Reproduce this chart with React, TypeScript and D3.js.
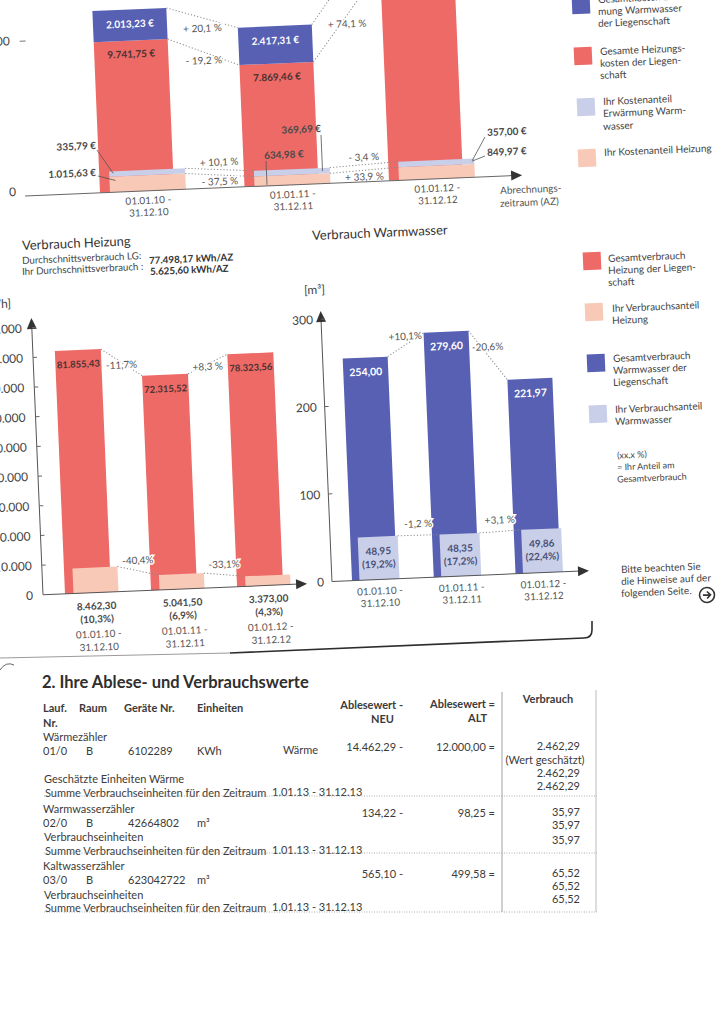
import React from "react";
import * as d3 from "d3";

// ---------- data ----------
const periods = ["2010", "2011", "2012"];
const periodStart = ["01.01.10 -", "01.01.11 -", "01.01.12 -"];
const periodEnd = ["31.12.10", "31.12.11", "31.12.12"];

// Kosten (€)
const costHeatTotal = [9741.75, 7869.46, 13700.73];
const costWaterTotal = [2013.23, 2417.31, 2600.0];
const costHeatShare = [1015.63, 634.98, 849.97];
const costWaterShare = [335.79, 369.69, 357.0];
const costHeatChange = ["- 19,2 %", "+ 74,1 %"];
const costWaterChange = ["+ 20,1 %", ""];
const costHeatShareChange = ["- 37,5 %", "+ 33,9 %"];
const costWaterShareChange = ["+ 10,1 %", "- 3,4 %"];
const costTicks = [0, 10000];

// Verbrauch Heizung (kWh)
const heatTotal = [81855.43, 72315.52, 78323.56];
const heatShare = [8462.3, 5041.5, 3373.0];
const heatSharePct = ["(10,3%)", "(6,9%)", "(4,3%)"];
const heatTotalChange = ["-11,7%", "+8,3 %"];
const heatShareChange = ["-40,4%", "-33,1%"];
const heatTicks = [0, 10000, 20000, 30000, 40000, 50000, 60000, 70000, 80000, 90000];

// Verbrauch Warmwasser (m³)
const waterTotal = [254.0, 279.6, 221.97];
const waterShare = [48.95, 48.35, 49.86];
const waterSharePct = ["(19,2%)", "(17,2%)", "(22,4%)"];
const waterTotalChange = ["+10,1%", "-20,6%"];
const waterShareChange = ["-1,2 %", "+3,1 %"];
const waterTicks = [0, 100, 200, 300];

// Tabelle
const meterGroups = ["Wärmezähler", "Warmwasserzähler", "Kaltwasserzähler"];
const meterNr = ["01/0", "02/0", "03/0"];
const meterRaum = ["B", "B", "B"];
const meterGeraet = ["6102289", "42664802", "623042722"];
const meterEinheit = ["KWh", "m³", "m³"];
const meterArt = ["Wärme", "", ""];
const meterNeu = ["14.462,29", "134,22", "565,10"];
const meterAlt = ["12.000,00", "98,25", "499,58"];
const meterVerbrauch = [
  ["2.462,29", "(Wert geschätzt)", "2.462,29", "2.462,29"],
  ["35,97", "35,97", "35,97"],
  ["65,52", "65,52", "65,52"],
];
const meterExtra = ["Geschätzte Einheiten Wärme", "Verbrauchseinheiten", "Verbrauchseinheiten"];
const zeitraum = "1.01.13 - 31.12.13";

// ---------- style ----------
const RED = "#ee6a66";
const BLUE = "#5760b2";
const LAV = "#c9cfe8";
const SAL = "#f8c9b7";
const TXT = "#3b3b3b";
const FONT = "Lato, 'Open Sans', sans-serif";

const de = d3.formatLocale({ decimal: ",", thousands: ".", grouping: [3], currency: ["", " €"] });
const f2 = de.format(",.2f");
const f0 = de.format(",.0f");
const eur = (v: number) => f2(v) + " €";

export default function App() {
  const ang = -2.4;
  const PCX = 360, PCY = 330;
  const r = (-ang * Math.PI) / 180;
  const inv = (X: number, Y: number): [number, number] => {
    const dx = X - PCX, dy = Y - PCY;
    return [PCX + dx * Math.cos(r) - dy * Math.sin(r), PCY + dx * Math.sin(r) + dy * Math.cos(r)];
  };
  const T = (X: number, Y: number, s: string, p: any = {}) => {
    const [x, y] = inv(X, Y);
    return (
      <text key={s + X + "_" + Y} x={x} y={y} dominantBaseline="central" {...p}>
        {s}
      </text>
    );
  };
  const halo = { stroke: "#fff", strokeWidth: 3, paintOrder: "stroke" as const };
  const dotted = { stroke: "#8a8a8a", strokeWidth: 1, strokeDasharray: "1.2,2", fill: "none" };

  // ---------- top cost chart ----------
  const tBase = inv(275, 185.5)[1];
  const xT = d3.scalePoint<string>().domain(periods).range([inv(137, 192)[0], inv(426, 180)[0]]);
  const yT = d3.scaleLinear().domain([0, 10000]).range([tBase, tBase - 154.8]);
  const tW = 74, tsW = 76, tsOff = 11;
  const tAxisX0 = inv(25, 194)[0];
  const tAxisX1 = inv(522, 172)[0];
  const tTickX = inv(13, 120)[0];

  const costTot = costHeatTotal.map((v, i) => v + costWaterTotal[i]);
  const costShareTot = costHeatShare.map((v, i) => v + costWaterShare[i]);

  const topChart = (
    <g>
      {periods.map((p, i) => {
        const cx = xT(p)!;
        const sx = cx + tsOff;
        return (
          <g key={p}>
            <rect x={cx - tW / 2} y={yT(costHeatTotal[i])} width={tW} height={tBase - yT(costHeatTotal[i])} fill={RED} />
            <rect x={cx - tW / 2} y={yT(costTot[i])} width={tW} height={yT(costHeatTotal[i]) - yT(costTot[i])} fill={BLUE} />
            <rect x={sx - tsW / 2} y={yT(costHeatShare[i])} width={tsW} height={tBase - yT(costHeatShare[i])} fill={SAL} />
            <rect x={sx - tsW / 2} y={yT(costShareTot[i])} width={tsW} height={yT(costHeatShare[i]) - yT(costShareTot[i])} fill={LAV} />
            <text x={cx} y={yT(costTot[i]) + 14} textAnchor="middle" dominantBaseline="central" fill="#fff" fontWeight="bold" fontSize={10}>
              {eur(costWaterTotal[i])}
            </text>
            <text x={cx} y={yT(costHeatTotal[i]) + 13} textAnchor="middle" dominantBaseline="central" fill="#4a3232" fontWeight="bold" fontSize={10}>
              {eur(costHeatTotal[i])}
            </text>
            <text x={sx} y={tBase + 9} textAnchor="middle" dominantBaseline="central" fill="#555" fontSize={10}>{periodStart[i]}</text>
            <text x={sx} y={tBase + 21} textAnchor="middle" dominantBaseline="central" fill="#555" fontSize={10}>{periodEnd[i]}</text>
          </g>
        );
      })}
      {[0, 1].map((i) => {
        const a = xT(periods[i])!, b = xT(periods[i + 1])!;
        const lines = [
          { y0: yT(costTot[i]), y1: yT(costTot[i + 1]), x0: a + tW / 2, x1: b - tW / 2, lab: costWaterChange[i], off: 10 },
          { y0: yT(costHeatTotal[i]), y1: yT(costHeatTotal[i + 1]), x0: a + tW / 2, x1: b - tW / 2, lab: costHeatChange[i], off: 8 },
          { y0: yT(costShareTot[i]), y1: yT(costShareTot[i + 1]), x0: a + tsOff + tsW / 2, x1: b + tsOff - tsW / 2, lab: costWaterShareChange[i], off: -8 },
          { y0: yT(costHeatShare[i]), y1: yT(costHeatShare[i + 1]), x0: a + tsOff + tsW / 2, x1: b + tsOff - tsW / 2, lab: costHeatShareChange[i], off: 6 },
        ];
        return lines.map((l, k) => (
          <g key={i + "-" + k}>
            <line x1={l.x0} y1={l.y0} x2={l.x1} y2={l.y1} {...dotted} />
            {l.lab && (
              <text x={(l.x0 + l.x1) / 2} y={(l.y0 + l.y1) / 2 + l.off} textAnchor="middle" dominantBaseline="central" fontSize={10} fill="#555" {...halo}>
                {l.lab}
              </text>
            )}
          </g>
        ));
      })}
      {/* x axis */}
      <line x1={tAxisX0} y1={tBase} x2={tAxisX1 - 8} y2={tBase} stroke="#666" strokeWidth={1} />
      <path d={`M${tAxisX1},${tBase} l-11,-5 l0,10 z`} fill="#333" />
      {costTicks.map((t) => (
        <g key={t}>
          <text x={tTickX} y={yT(t) - (t === 0 ? 5 : 1)} textAnchor="end" dominantBaseline="central" fontSize={12} fill="#444">{f0(t)}</text>
          {t > 0 && <line x1={tTickX + 10} x2={tTickX + 16} y1={yT(t)} y2={yT(t)} stroke="#777" />}
        </g>
      ))}
      {/* share annotations */}
      {(() => {
        const s0 = xT(periods[0])! + tsOff, s2 = xT(periods[2])! + tsOff;
        const seg = (X: number, Y: number, x: number, y: number, k: string) => {
          const [a, b] = inv(X, Y);
          return <line key={k} x1={a} y1={b} x2={x} y2={y} stroke="#555" strokeWidth={0.8} />;
        };
        const p369 = inv(321, 135);
        const p634 = inv(266, 161);
        const lab = { fontWeight: "bold", fontSize: 10, fill: "#4a4a4a" };
        return (
          <g>
            {T(96, 145, eur(costWaterShare[0]), { textAnchor: "end", ...lab })}
            {seg(97, 150, s0 - tsW / 2 + 4, yT(costShareTot[0]) + 2, "l1")}
            {T(96, 172, eur(costHeatShare[0]), { textAnchor: "end", ...lab })}
            {seg(98, 176, s0 - tsW / 2 + 6, yT(costHeatShare[0]) + 4, "l2")}
            {T(321, 128, eur(costWaterShare[1]), { textAnchor: "end", ...lab })}
            <line x1={p369[0]} y1={p369[1]} x2={p369[0]} y2={yT(costShareTot[1]) + 3} stroke="#555" strokeWidth={0.8} />
            {T(264, 155, eur(costHeatShare[1]), { textAnchor: "start", ...lab })}
            <line x1={p634[0]} y1={p634[1]} x2={p634[0]} y2={yT(0) - 1} stroke="#555" strokeWidth={0.8} />
            {T(487, 132, eur(costWaterShare[2]), { textAnchor: "start", ...lab })}
            {seg(485, 137, s2 + tsW / 2 - 2, yT(costShareTot[2]) + 2, "l5")}
            {T(487, 152, eur(costHeatShare[2]), { textAnchor: "start", ...lab })}
            {seg(485, 156, s2 + tsW / 2 - 2, yT(costHeatShare[2]) - 3, "l6")}
          </g>
        );
      })()}
      {T(500, 190, "Abrechnungs-", { fontSize: 10, fill: "#555" })}
      {T(500, 203, "zeitraum (AZ)", { fontSize: 10, fill: "#555" })}
    </g>
  );

  // legend swatch helper
  const Sw = (X: number, Y: number, c: string, k: string) => {
    const [x, y] = inv(X, Y);
    return <rect key={k} x={x - 9} y={y - 9} width={18} height={18} fill={c} />;
  };
  const LT = (X: number, Y: number, s: string) => T(X, Y, s, { fontSize: 10, fill: "#444" });

  const topLegend = (
    <g>
      {Sw(581, 5, BLUE, "s1")}
      {LT(598, -1, "Gesamtkosten Erwär-")}
      {LT(598, 11, "mung Warmwasser")}
      {LT(598, 23, "der Liegenschaft")}
      {Sw(583, 56, RED, "s2")}
      {LT(600, 51, "Gesamte Heizungs-")}
      {LT(600, 63, "kosten der Liegen-")}
      {LT(600, 75, "schaft")}
      {Sw(586, 107, LAV, "s3")}
      {LT(603, 101, "Ihr Kostenanteil")}
      {LT(603, 113, "Erwärmung Warm-")}
      {LT(603, 126, "wasser")}
      {Sw(587, 158, SAL, "s4")}
      {LT(604, 152, "Ihr Kostenanteil Heizung")}
    </g>
  );

  // ---------- heating chart ----------
  const hBase = inv(170, 589.5)[1];
  const xH = d3.scalePoint<string>().domain(periods).range([inv(88, 593)[0], inv(260, 585)[0]]);
  const yH = d3.scaleLinear().domain([0, 100000]).range([hBase, hBase - 297]);
  const hW = 46, hsW = 45, hsOff = 8;
  const hAxisX = inv(43, 595)[0];
  const hTop = inv(33, 318)[1];
  const hArrowX = inv(307, 582)[0];

  const heatChart = (
    <g>
      {periods.map((p, i) => {
        const cx = xH(p)!;
        const sx = cx + hsOff;
        return (
          <g key={p}>
            <rect x={cx - hW / 2} y={yH(heatTotal[i])} width={hW} height={hBase - yH(heatTotal[i])} fill={RED} />
            <rect x={sx - hsW / 2} y={yH(heatShare[i])} width={hsW} height={hBase - yH(heatShare[i])} fill={SAL} />
            <text x={cx} y={yH(heatTotal[i]) + 14} textAnchor="middle" dominantBaseline="central" fontWeight="bold" fontSize={9.5} fill="#4a3232">
              {f2(heatTotal[i])}
            </text>
            <text x={sx} y={hBase + 13} textAnchor="middle" dominantBaseline="central" fontWeight="bold" fontSize={10} fill="#4a4a4a">{f2(heatShare[i])}</text>
            <text x={sx} y={hBase + 26} textAnchor="middle" dominantBaseline="central" fontWeight="bold" fontSize={10} fill="#4a4a4a">{heatSharePct[i]}</text>
            <text x={sx + 1} y={hBase + 41} textAnchor="middle" dominantBaseline="central" fontSize={10} fill="#555">{periodStart[i]}</text>
            <text x={sx + 1} y={hBase + 54} textAnchor="middle" dominantBaseline="central" fontSize={10} fill="#555">{periodEnd[i]}</text>
          </g>
        );
      })}
      {[0, 1].map((i) => {
        const a = xH(periods[i])!, b = xH(periods[i + 1])!;
        const lines = [
          { x0: a + hW / 2, x1: b - hW / 2, y0: yH(heatTotal[i]), y1: yH(heatTotal[i + 1]), lab: heatTotalChange[i], off: 2 },
          { x0: a + hsOff + hsW / 2, x1: b + hsOff - hsW / 2, y0: yH(heatShare[i]), y1: yH(heatShare[i + 1]), lab: heatShareChange[i], off: -11 },
        ];
        return lines.map((l, k) => (
          <g key={i + "-" + k}>
            <line x1={l.x0} y1={l.y0} x2={l.x1} y2={l.y1} {...dotted} />
            <text x={(l.x0 + l.x1) / 2} y={(l.y0 + l.y1) / 2 + l.off} textAnchor="middle" dominantBaseline="central" fontSize={10} fill="#555" {...halo}>
              {l.lab}
            </text>
          </g>
        ));
      })}
      <line x1={hAxisX} y1={hBase} x2={hAxisX} y2={hTop + 8} stroke="#555" />
      <path d={`M${hAxisX},${hTop} l-5,11 l10,0 z`} fill="#333" />
      <line x1={hAxisX} y1={hBase} x2={hArrowX - 8} y2={hBase} stroke="#555" />
      <path d={`M${hArrowX},${hBase} l-11,-5 l0,10 z`} fill="#333" />
      {heatTicks.map((t) => (
        <g key={t}>
          <text x={hAxisX - 10} y={yH(t)} textAnchor="end" dominantBaseline="central" fontSize={12} fill="#444">{f0(t)}</text>
          {t > 0 && <line x1={hAxisX} x2={hAxisX + 4} y1={yH(t)} y2={yH(t)} stroke="#666" />}
        </g>
      ))}
      {T(11, 303, "[kWh]", { textAnchor: "end", fontSize: 12, fill: "#444" })}
    </g>
  );

  // ---------- warm water chart ----------
  const wBase = inv(450, 576.5)[1];
  const xW = d3.scalePoint<string>().domain(periods).range([inv(374.5, 580)[0], inv(538, 573)[0]]);
  const yW = d3.scaleLinear().domain([0, 300]).range([wBase, wBase - 262.5]);
  const wW = 45, wsW = 40, wsOff = 5;
  const wAxisX = inv(332, 582)[0];
  const wTop = inv(320, 311)[1];
  const wArrowX = inv(589, 571)[0];

  const waterChart = (
    <g>
      {periods.map((p, i) => {
        const cx = xW(p)!;
        const sx = cx + wsOff;
        return (
          <g key={p}>
            <rect x={cx - wW / 2} y={yW(waterTotal[i])} width={wW} height={wBase - yW(waterTotal[i])} fill={BLUE} />
            <rect x={sx - wsW / 2} y={yW(waterShare[i])} width={wsW} height={wBase - yW(waterShare[i])} fill={LAV} />
            <text x={cx} y={yW(waterTotal[i]) + 14} textAnchor="middle" dominantBaseline="central" fontWeight="bold" fontSize={10.5} fill="#fff">
              {f2(waterTotal[i])}
            </text>
            <text x={sx} y={yW(waterShare[i]) + 14} textAnchor="middle" dominantBaseline="central" fontWeight="bold" fontSize={10} fill="#4b5078">{f2(waterShare[i])}</text>
            <text x={sx} y={yW(waterShare[i]) + 27} textAnchor="middle" dominantBaseline="central" fontWeight="bold" fontSize={10} fill="#4b5078">{waterSharePct[i]}</text>
            <text x={sx} y={wBase + 11} textAnchor="middle" dominantBaseline="central" fontSize={10} fill="#555">{periodStart[i]}</text>
            <text x={sx} y={wBase + 23} textAnchor="middle" dominantBaseline="central" fontSize={10} fill="#555">{periodEnd[i]}</text>
          </g>
        );
      })}
      {[0, 1].map((i) => {
        const a = xW(periods[i])!, b = xW(periods[i + 1])!;
        const lines = [
          { x0: a + wW / 2, x1: b - wW / 2, y0: yW(waterTotal[i]), y1: yW(waterTotal[i + 1]), lab: waterTotalChange[i], off: -9 },
          { x0: a + wsOff + wsW / 2, x1: b + wsOff - wsW / 2, y0: yW(waterShare[i]), y1: yW(waterShare[i + 1]), lab: waterShareChange[i], off: -12 },
        ];
        return lines.map((l, k) => (
          <g key={i + "-" + k}>
            <line x1={l.x0} y1={l.y0} x2={l.x1} y2={l.y1} {...dotted} />
            <text x={(l.x0 + l.x1) / 2} y={(l.y0 + l.y1) / 2 + l.off} textAnchor="middle" dominantBaseline="central" fontSize={10} fill="#555" {...halo}>
              {l.lab}
            </text>
          </g>
        ));
      })}
      <line x1={wAxisX} y1={wBase} x2={wAxisX} y2={wTop + 8} stroke="#555" />
      <path d={`M${wAxisX},${wTop} l-5,11 l10,0 z`} fill="#333" />
      <line x1={wAxisX} y1={wBase} x2={wArrowX - 8} y2={wBase} stroke="#555" />
      <path d={`M${wArrowX},${wBase} l-11,-5 l0,10 z`} fill="#333" />
      {waterTicks.map((t) => (
        <g key={t}>
          <text x={wAxisX - 8} y={yW(t)} textAnchor="end" dominantBaseline="central" fontSize={12} fill="#444">{f0(t)}</text>
          {t > 0 && <line x1={wAxisX} x2={wAxisX + 4} y1={yW(t)} y2={yW(t)} stroke="#666" />}
        </g>
      ))}
      {T(304, 290, "[m³]", { fontSize: 12, fill: "#444" })}
    </g>
  );

  const midTitles = (
    <g>
      {T(22, 245, "Verbrauch Heizung", { fontSize: 13, fill: "#333" })}
      {T(22, 260, "Durchschnittsverbrauch LG:", { fontSize: 9.8, fill: "#444" })}
      {T(149, 260, "77.498,17 kWh/AZ", { fontSize: 9.8, fill: "#333", fontWeight: "bold" })}
      {T(22, 271, "Ihr Durchschnittsverbrauch :", { fontSize: 9.8, fill: "#444" })}
      {T(150, 271, "5.625,60 kWh/AZ", { fontSize: 9.8, fill: "#333", fontWeight: "bold" })}
      {T(312, 235, "Verbrauch Warmwasser", { fontSize: 13, fill: "#333" })}
    </g>
  );

  const circ = inv(707, 595);
  const midLegend = (
    <g>
      {Sw(592, 261, RED, "m1")}
      {LT(608, 258, "Gesamtverbrauch")}
      {LT(608, 270, "Heizung der Liegen-")}
      {LT(608, 282, "schaft")}
      {Sw(594, 312, SAL, "m2")}
      {LT(612, 308, "Ihr Verbrauchsanteil")}
      {LT(612, 320, "Heizung")}
      {Sw(596, 363, BLUE, "m3")}
      {LT(613, 358, "Gesamtverbrauch")}
      {LT(613, 370, "Warmwasser der")}
      {LT(613, 382, "Liegenschaft")}
      {Sw(598, 414, LAV, "m4")}
      {LT(615, 409, "Ihr Verbrauchsanteil")}
      {LT(615, 421, "Warmwasser")}
      {T(617, 455, "(xx,x %)", { fontSize: 9, fill: "#444" })}
      {T(617, 467, "= Ihr Anteil am", { fontSize: 9, fill: "#444" })}
      {T(617, 479, "Gesamtverbrauch", { fontSize: 9, fill: "#444" })}
      {LT(621, 569, "Bitte beachten Sie")}
      {LT(621, 581, "die Hinweise auf der")}
      {LT(621, 593, "folgenden Seite.")}
      <circle cx={circ[0]} cy={circ[1]} r={7.5} fill="none" stroke="#333" strokeWidth={1.6} />
      <path d={`M${circ[0] - 4},${circ[1]} h7 M${circ[0]},${circ[1] - 3.5} l3.5,3.5 l-3.5,3.5`} fill="none" stroke="#333" strokeWidth={1.6} />
    </g>
  );

  // ---------- table ----------
  const blockY = [736, 808, 865];
  const rightY = [746, 812, 873];
  const verbrauchStep = [[0, 14, 27, 40], [0, 13, 28], [0, 13, 26]];
  const summeY = [792, 850, 907];
  const extraY = [778, 836, 894];
  const dotY = [796, 853, 912];
  const tf = { fontSize: 11, fill: TXT };

  const table = (
    <g fontFamily={FONT}>
      <text x={42} y={682} dominantBaseline="central" fontSize={16.5} fontWeight="bold" fill="#2f2f2f">2. Ihre Ablese- und Verbrauchswerte</text>
      <g fontWeight="bold" fontSize={11} fill={TXT}>
        <text x={43} y={707} dominantBaseline="central">Lauf.</text>
        <text x={43} y={722} dominantBaseline="central">Nr.</text>
        <text x={79} y={707} dominantBaseline="central">Raum</text>
        <text x={124} y={707} dominantBaseline="central">Geräte Nr.</text>
        <text x={197} y={707} dominantBaseline="central">Einheiten</text>
        <text x={403} y={704} dominantBaseline="central" textAnchor="end">Ablesewert -</text>
        <text x={394} y={718} dominantBaseline="central" textAnchor="end">NEU</text>
        <text x={495} y={703} dominantBaseline="central" textAnchor="end">Ablesewert =</text>
        <text x={487} y={717} dominantBaseline="central" textAnchor="end">ALT</text>
        <text x={548} y={698} dominantBaseline="central" textAnchor="middle">Verbrauch</text>
      </g>
      <line x1={502} x2={502} y1={692} y2={912} stroke="#888" strokeWidth={0.8} />
      <line x1={596} x2={596} y1={690} y2={912} stroke="#aaa" strokeWidth={0.8} />
      {meterGroups.map((g, i) => (
        <g key={g}>
          <text x={43} y={blockY[i]} dominantBaseline="central" {...tf}>{g}</text>
          <text x={43} y={blockY[i] + 14} dominantBaseline="central" {...tf}>{meterNr[i]}</text>
          <text x={86} y={blockY[i] + 14} dominantBaseline="central" {...tf}>{meterRaum[i]}</text>
          <text x={128} y={blockY[i] + 14} dominantBaseline="central" {...tf}>{meterGeraet[i]}</text>
          <text x={197} y={blockY[i] + 14} dominantBaseline="central" {...tf}>{meterEinheit[i]}</text>
          {meterArt[i] && <text x={283} y={blockY[i] + 13} dominantBaseline="central" {...tf}>{meterArt[i]}</text>}
          <text x={403} y={rightY[i]} dominantBaseline="central" textAnchor="end" {...tf}>{meterNeu[i] + " -"}</text>
          <text x={495} y={rightY[i]} dominantBaseline="central" textAnchor="end" {...tf}>{meterAlt[i] + " ="}</text>
          {meterVerbrauch[i].map((v, k) => (
            <text key={k} x={v.startsWith("(") ? 545 : 580} y={rightY[i] - 1 + verbrauchStep[i][k]} dominantBaseline="central" textAnchor={v.startsWith("(") ? "middle" : "end"} {...tf}>
              {v}
            </text>
          ))}
          <text x={44} y={extraY[i]} dominantBaseline="central" {...tf}>{meterExtra[i]}</text>
          <text x={45} y={summeY[i]} dominantBaseline="central" {...tf}>Summe Verbrauchseinheiten für den Zeitraum</text>
          <text x={272} y={summeY[i] - 1} dominantBaseline="central" {...tf}>{zeitraum}</text>
          <line x1={44} x2={597} y1={dotY[i]} y2={dotY[i]} stroke="#999" strokeWidth={0.8} strokeDasharray="1,1.5" />
        </g>
      ))}
    </g>
  );

  return (
    <svg width={722} height={1024} style={{ position: "absolute", left: 0, top: 0, background: "#fff" }} fontFamily={FONT}>
      <rect x={0} y={0} width={722} height={1024} fill="#fff" />
      <g transform={`rotate(${ang},${PCX},${PCY})`}>
        {topChart}
        {topLegend}
        {midTitles}
        {heatChart}
        {waterChart}
        {midLegend}
      </g>
      <path d="M0,658 L230,653" stroke="#9a9a9a" strokeWidth={1} fill="none" />
      <path d="M230,653 L584,638 Q592,638 592,630 L592,621" stroke="#2d2d2d" strokeWidth={1.6} fill="none" />
      <path d="M0,670 Q6,661 14,665" stroke="#666" strokeWidth={1} fill="none" />
      {table}
    </svg>
  );
}
